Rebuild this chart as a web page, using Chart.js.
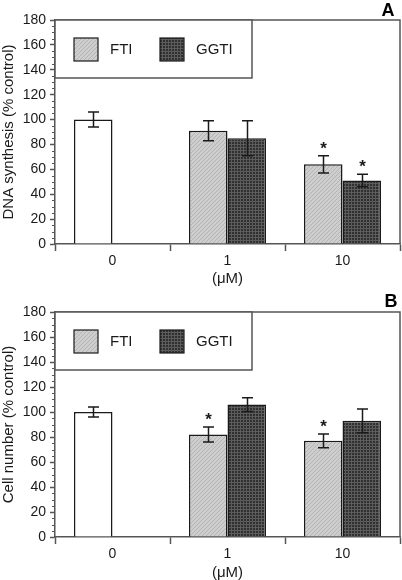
<!DOCTYPE html>
<html>
<head>
<meta charset="utf-8">
<script src="https://cdn.jsdelivr.net/npm/chart.js@4"></script>
<style>
  body { margin: 0; background: #fff; }
  .panel { position: absolute; left: 0; width: 402px; height: 290px; }
</style>
</head>
<body>
<div class="panel" style="top:0"><canvas id="chartA" width="402" height="290"></canvas></div>
<div class="panel" style="top:290px"><canvas id="chartB" width="402" height="290"></canvas></div>
<script>
const doses = ['0', '1', '10'];
const seriesNames = ['Control', 'FTI', 'GGTI'];
const yMin = 0, yMax = 180, yStep = 20, yMinorStep = 5;

// panel A - DNA synthesis
const controlA = [100, null, null];
const ftiA = [null, 91, 64];
const ggtiA = [null, 85, 51];
const controlErrA = [6, null, null];
const ftiErrA = [null, 8, 7];
const ggtiErrA = [null, 14, 5];
const ftiSigA = [false, false, true];
const ggtiSigA = [false, false, true];

// panel B - cell number
const controlB = [100, null, null];
const ftiB = [null, 82, 77];
const ggtiB = [null, 106, 93];
const controlErrB = [4, null, null];
const ftiErrB = [null, 6, 5.5];
const ggtiErrB = [null, 5.5, 9.5];
const ftiSigB = [false, true, true];
const ggtiSigB = [false, false, false];

const FONT = '"Liberation Sans", Arial, Helvetica, sans-serif';
const INK = '#1a1a1a';
const AXIS = '#555';

// light diagonal hatch for FTI
function hatchPattern() {
  const c = document.createElement('canvas');
  c.width = c.height = 4;
  const g = c.getContext('2d');
  g.fillStyle = '#cecece';
  g.fillRect(0, 0, 4, 4);
  g.fillStyle = '#b4b4b4';
  for (let i = 0; i < 4; i++) g.fillRect(i, 3 - i, 1, 1);
  return g.createPattern(c, 'repeat');
}

// dark crosshatch for GGTI
function meshPattern() {
  const c = document.createElement('canvas');
  c.width = c.height = 3;
  const g = c.getContext('2d');
  g.fillStyle = '#303030';
  g.fillRect(0, 0, 3, 3);
  g.fillStyle = '#5c5c5c';
  g.fillRect(0, 0, 3, 1);
  g.fillRect(0, 0, 1, 3);
  return g.createPattern(c, 'repeat');
}

const ftiFill = hatchPattern();
const ggtiFill = meshPattern();

// error bars, asterisks, frame, minor ticks, legend box, panel letter
const extras = {
  id: 'extras',
  afterDatasetsDraw(chart) {
    const {ctx, scales: {y}} = chart;
    ctx.save();
    ctx.strokeStyle = INK;
    ctx.lineWidth = 1.5;
    ctx.fillStyle = INK;
    ctx.font = 'bold 17px ' + FONT;
    ctx.textAlign = 'center';
    ctx.textBaseline = 'alphabetic';
    chart.data.datasets.forEach((ds, i) => {
      chart.getDatasetMeta(i).data.forEach((bar, j) => {
        const v = ds.data[j];
        if (v == null) return;
        const e = ds.errors[j];
        const hi = y.getPixelForValue(v + e);
        const lo = y.getPixelForValue(v - e);
        const x = Math.round(bar.x) + 0.5;
        ctx.beginPath();
        ctx.moveTo(x, hi); ctx.lineTo(x, lo);
        ctx.moveTo(x - 5.5, hi); ctx.lineTo(x + 5.5, hi);
        ctx.moveTo(x - 5.5, lo); ctx.lineTo(x + 5.5, lo);
        ctx.stroke();
        if (ds.sig[j]) ctx.fillText('*', x, hi - 2);
      });
    });
    ctx.restore();
  },
  afterDraw(chart, args, opts) {
    const {ctx, chartArea: {left, right, top, bottom}, scales: {y}} = chart;
    ctx.save();
    ctx.strokeStyle = AXIS;
    ctx.lineWidth = 1.5;
    ctx.beginPath();
    ctx.moveTo(left, top);
    ctx.lineTo(right, top);
    ctx.lineTo(right, bottom);
    ctx.stroke();

    ctx.beginPath();
    for (let v = yMin; v <= yMax; v += yMinorStep) {
      if (v % yStep === 0) continue;
      const py = Math.round(y.getPixelForValue(v)) + 0.5;
      ctx.moveTo(left - 3, py);
      ctx.lineTo(left, py);
    }
    ctx.lineWidth = 1;
    ctx.stroke();

    // legend
    ctx.fillStyle = '#fff';
    ctx.fillRect(left, top, 197, 58);
    ctx.lineWidth = 1.5;
    ctx.strokeStyle = AXIS;
    ctx.strokeRect(left, top, 197, 58);
    ctx.font = '15px ' + FONT;
    ctx.textBaseline = 'middle';
    ctx.textAlign = 'left';
    const items = chart.data.datasets.filter(d => d.inLegend);
    const slots = [19, 105];
    items.forEach((d, k) => {
      const sx = left + slots[k];
      ctx.fillStyle = d.backgroundColor;
      ctx.fillRect(sx, top + 18, 24, 23);
      ctx.strokeStyle = INK;
      ctx.lineWidth = 1.2;
      ctx.strokeRect(sx, top + 18, 24, 23);
      ctx.fillStyle = INK;
      ctx.fillText(d.label, sx + 36, top + 30);
    });

    ctx.font = 'bold 18px ' + FONT;
    ctx.textAlign = 'center';
    ctx.fillStyle = '#000';
    ctx.fillText(opts.letter, opts.lx, opts.ly);
    ctx.restore();
  }
};

function makeChart(id, title, letter, lx, ly, padTop, padBottom, xHeight, vals, errs, sigs) {
  const datasets = [
    {label: seriesNames[0], data: vals[0], errors: errs[0], sig: sigs[0], stack: 'left',
     backgroundColor: '#fff', inLegend: false},
    {label: seriesNames[1], data: vals[1], errors: errs[1], sig: sigs[1], stack: 'left',
     backgroundColor: ftiFill, inLegend: true},
    {label: seriesNames[2], data: vals[2], errors: errs[2], sig: sigs[2], stack: 'right',
     backgroundColor: ggtiFill, inLegend: true},
  ];
  datasets.forEach(d => {
    d.borderColor = INK;
    d.borderWidth = 1.5;
    d.categoryPercentage = 0.67;
    d.barPercentage = 1;
  });
  return new Chart(document.getElementById(id), {
    type: 'bar',
    data: {labels: doses, datasets},
    options: {
      responsive: false,
      animation: false,
      layout: {padding: {top: padTop, right: 2, bottom: padBottom, left: 0}},
      plugins: {
        legend: {display: false},
        tooltip: {enabled: false},
        extras: {letter, lx, ly},
      },
      scales: {
        x: {
          grid: {drawOnChartArea: false, offset: true, tickLength: 7, tickColor: AXIS, tickWidth: 1.5},
          border: {color: AXIS, width: 1.5},
          ticks: {color: INK, padding: 2, font: {size: 14, family: FONT}},
          title: {display: true, text: '(μM)', color: INK, padding: 0,
                  font: {size: 15, family: FONT, lineHeight: 1}},
          afterFit(s) { s.height = xHeight; },
        },
        y: {
          min: yMin, max: yMax,
          grid: {drawOnChartArea: false, tickLength: 5, tickColor: AXIS, tickWidth: 1.5},
          border: {color: AXIS, width: 1.5},
          ticks: {stepSize: yStep, color: INK, padding: 4, font: {size: 14, family: FONT}},
          title: {display: true, text: title, color: INK, padding: 0,
                  font: {size: 15, family: FONT}},
          afterFit(s) { s.width = 55; },
        },
      },
    },
    plugins: [extras],
  });
}

makeChart('chartA', 'DNA synthesis (% control)', 'A', 388, 11, 20, 3.5, 42.5,
  [controlA, ftiA, ggtiA], [controlErrA, ftiErrA, ggtiErrA], [[], ftiSigA, ggtiSigA]);
makeChart('chartB', 'Cell number (% control)', 'B', 391, 12, 22, 0, 43,
  [controlB, ftiB, ggtiB], [controlErrB, ftiErrB, ggtiErrB], [[], ftiSigB, ggtiSigB]);
</script>
</body>
</html>
